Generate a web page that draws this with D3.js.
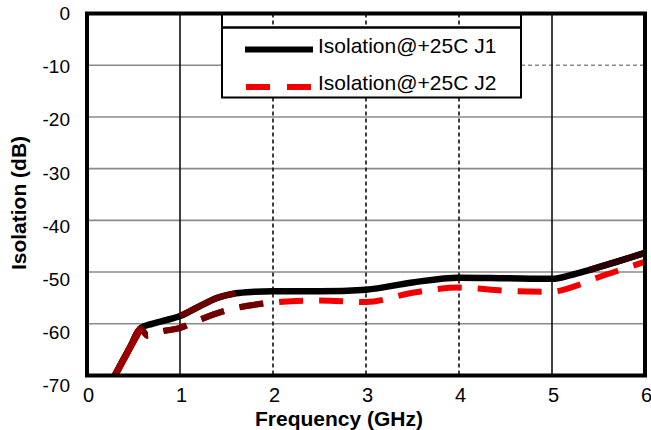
<!DOCTYPE html>
<meta charset="utf-8">
<head>
<title>Isolation vs Frequency</title>
<style>
body { margin: 0; background: #fff; }
svg text { font-family: "Liberation Sans", Arial, Helvetica, sans-serif; fill: #000; }
.tick-label { font-size: 19px; }
.axis-title { font-size: 21px; font-weight: bold; }
.legend text { font-size: 21px; }
</style>
</head>
<body>
<script src="https://cdn.jsdelivr.net/npm/d3@7"></script>
<script>

// values
var xTicks = [0, 1, 2, 3, 4, 5, 6];
var yTicks = [0, -10, -20, -30, -40, -50, -60, -70];
var solidX = [1, 5];
var dashedX = [2, 3, 4];

var freqJ1 = [0.3, 0.45, 0.58, 0.7, 0.85, 1.0, 1.2, 1.4, 1.6, 1.8, 2.0, 2.5, 3.0, 3.5, 4.0, 4.5, 5.0, 5.2, 5.4, 5.7, 6.0];
var isoJ1  = [-70, -65, -60.8, -60, -59.3, -58.5, -56.7, -55.0, -54.1, -53.8, -53.7, -53.7, -53.4, -52, -51.1, -51.2, -51.3, -50.6, -49.6, -48, -46.3];

var freqJ2 = [0.3, 0.45, 0.58, 0.65, 0.8, 1.0, 1.2, 1.5, 2.0, 2.5, 3.0, 3.5, 4.0, 4.5, 5.0, 5.2, 5.5, 5.8, 6.0];
var isoJ2  = [-70, -65, -61, -62.3, -61.5, -60.8, -59.3, -57.4, -55.9, -55.5, -55.8, -54, -53, -53.6, -53.8, -53, -51, -49.2, -48];

// parts of the curves that show up dark red / brown in the scan
var darkJ1 = [[0.3, 0.6], [1.0, 1.6]];
var darkJ2 = [0.3, 2.3];
var brownJ1 = [5.4, 6.0];

var legendNames = ["Isolation@+25C J1", "Isolation@+25C J2"];

var width = 651,
    height = 430;

var x = d3.scaleLinear().domain([0, 6]).range([87, 645]);
var y = d3.scaleLinear().domain([-70, 0]).range([375.5, 13.5]);
// the tick labels in the scan sit on a slightly larger pitch than the grid
var yLab = d3.scaleLinear().domain([-70, 0]).range([385, 13.5]);

var svg = d3.select("body").append("svg")
    .attr("width", width)
    .attr("height", height);

svg.append("rect").attr("width", width).attr("height", height).attr("fill", "#fff");

svg.append("clipPath").attr("id", "plot")
  .append("rect")
    .attr("x", x(0)).attr("y", y(0))
    .attr("width", x(6) - x(0)).attr("height", y(-70) - y(0));

var legX0 = 222, legX1 = 521;

// horizontal grid
var hGrid = svg.append("g");
hGrid.selectAll("line.h")
    .data(yTicks.filter(function(d) { return d < 0 && d > -70; }))
  .enter().append("line")
    .attr("class", "h")
    .attr("x1", x(0))
    .attr("x2", function(d) { return d == -10 ? legX0 : x(6); })
    .attr("y1", y).attr("y2", y)
    .attr("stroke", "#8a8a8a")
    .attr("stroke-width", 1.6);

hGrid.append("line")
    .attr("x1", legX1).attr("x2", x(6))
    .attr("y1", y(-10)).attr("y2", y(-10))
    .attr("stroke", "#8a8a8a")
    .attr("stroke-width", 1.4)
    .attr("stroke-dasharray", "4,3");

// vertical grid
svg.selectAll("line.vs")
    .data(solidX)
  .enter().append("line")
    .attr("class", "vs")
    .attr("x1", x).attr("x2", x)
    .attr("y1", y(0)).attr("y2", y(-70))
    .attr("stroke", "#111")
    .attr("stroke-width", 1.6);

svg.selectAll("line.vd")
    .data(dashedX)
  .enter().append("line")
    .attr("class", "vd")
    .attr("x1", x).attr("x2", x)
    .attr("y1", y(0)).attr("y2", y(-70))
    .attr("stroke", "#111")
    .attr("stroke-width", 1.6)
    .attr("stroke-dasharray", "4,3");

// curves
var line = d3.line()
    .x(function(d) { return x(d[0]); })
    .y(function(d) { return y(d[1]); })
    .curve(d3.curveMonotoneX);

var j1 = d3.zip(freqJ1, isoJ1);
var j2 = d3.zip(freqJ2, isoJ2);

function part(data, r) {
  return data.filter(function(d) { return d[0] >= r[0] - 1e-9 && d[0] <= r[1] + 1e-9; });
}

var curves = svg.append("g").attr("clip-path", "url(#plot)");

curves.append("path")
    .attr("d", line(j1))
    .attr("fill", "none")
    .attr("stroke", "#000")
    .attr("stroke-width", 6.5);

curves.append("path")
    .attr("d", line(j2))
    .attr("fill", "none")
    .attr("stroke", "#f20000")
    .attr("stroke-width", 6)
    .attr("stroke-dasharray", "24,16");

curves.append("path")
    .attr("d", line(part(j2, darkJ2)))
    .attr("fill", "none")
    .attr("stroke", "#6e0000")
    .attr("stroke-width", 6.2)
    .attr("stroke-dasharray", "24,16");

darkJ1.forEach(function(r, i) {
  curves.append("path")
      .attr("d", line(part(j1, r)))
      .attr("fill", "none")
      .attr("stroke", i == 0 ? "#9a0000" : "#6a0000")
      .attr("stroke-width", i == 0 ? 7 : 6.2);
});

curves.append("path")
    .attr("d", line(part(j1, brownJ1)))
    .attr("fill", "none")
    .attr("stroke", "#2a0000")
    .attr("stroke-width", 6.5);

// legend
var legend = svg.append("g").attr("class", "legend");

legend.append("rect")
    .attr("x", legX0).attr("y", 27.5)
    .attr("width", legX1 - legX0).attr("height", 70)
    .attr("fill", "#fff")
    .attr("stroke", "#000")
    .attr("stroke-width", 2);

legend.append("rect")
    .attr("x", legX0).attr("y", y(0))
    .attr("width", legX1 - legX0).attr("height", 27.5 - y(0))
    .attr("fill", "none")
    .attr("stroke", "#000")
    .attr("stroke-width", 2);

legend.append("line")
    .attr("x1", 245).attr("x2", 313)
    .attr("y1", 49.5).attr("y2", 49.5)
    .attr("stroke", "#000")
    .attr("stroke-width", 6);

legend.append("line")
    .attr("x1", 246).attr("x2", 313)
    .attr("y1", 87).attr("y2", 87)
    .attr("stroke", "#f20000")
    .attr("stroke-width", 6)
    .attr("stroke-dasharray", "24,17");

legend.selectAll("text")
    .data(legendNames)
  .enter().append("text")
    .attr("x", 318)
    .attr("y", function(d, i) { return i == 0 ? 53 : 90; })
    .text(function(d) { return d; });

// plot frame
svg.append("rect")
    .attr("x", x(0)).attr("y", y(0))
    .attr("width", x(6) - x(0)).attr("height", y(-70) - y(0))
    .attr("fill", "none")
    .attr("stroke", "#000")
    .attr("stroke-width", 4);

// tick labels
svg.selectAll("text.ylab")
    .data(yTicks)
  .enter().append("text")
    .attr("class", "tick-label ylab")
    .attr("x", 70)
    .attr("y", yLab)
    .attr("dy", "0.36em")
    .attr("text-anchor", "end")
    .text(function(d) { return d; });

svg.selectAll("text.xlab")
    .data(xTicks)
  .enter().append("text")
    .attr("class", "tick-label xlab")
    .style("font-size", "20px")
    .attr("x", function(d) { return x(d) + 1.5; })
    .attr("y", 402)
    .attr("text-anchor", "middle")
    .text(function(d) { return d; });

// axis titles
svg.append("text")
    .attr("class", "axis-title")
    .attr("x", 339)
    .attr("y", 426)
    .attr("text-anchor", "middle")
    .text("Frequency (GHz)");

svg.append("text")
    .attr("class", "axis-title")
    .attr("transform", "translate(26,203) rotate(-90)")
    .attr("text-anchor", "middle")
    .text("Isolation (dB)");

</script>
</body>
